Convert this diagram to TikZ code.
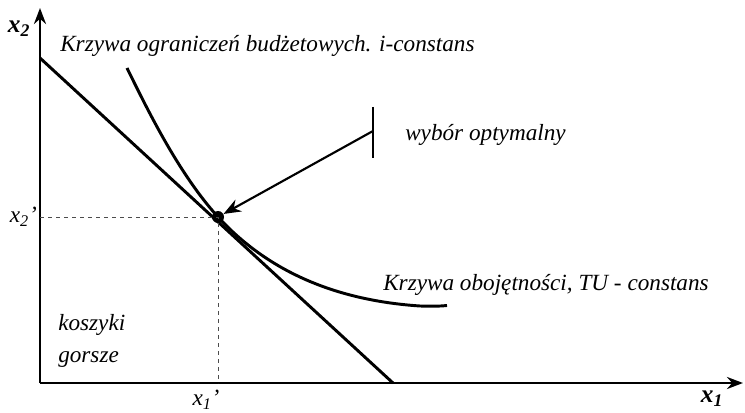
\documentclass[tikz,border=0pt]{standalone}
\usepackage{fontspec}
\setmainfont{Liberation Serif}
\usetikzlibrary{arrows.meta,positioning}

\tikzset{
  thick line/.style={line width=2.2pt},
  guide/.style={gray!60!black,dashed,line width=0.7pt},
  lbl/.style={font=\fontsize{17.4}{20}\selectfont\itshape,inner sep=0pt},
  axlbl/.style={font=\fontsize{19}{22}\selectfont\bfseries\itshape,inner sep=0pt},
}

\begin{document}
\begin{tikzpicture}[x=0.75pt,y=-0.75pt]
    \useasboundingbox (0,0) rectangle (745,413);
    % axes
    \coordinate (O) at (40,383);
    \coordinate (ytop) at (40,8);
    \coordinate (xend) at (743,383);
    \draw[thick line,-{Stealth[length=12pt,width=9pt]}] (O) -- (ytop);
    \draw[thick line,-{Stealth[length=12pt,width=9pt]}] (O) -- (xend);
    \node[axlbl] (lx2) at (19,29) {x\textsubscript{2}};
    \node[axlbl] (lx1) at (712,399) {x\textsubscript{1}};
    % budget line and indifference curve
    \coordinate (b0) at (40,58);
    \coordinate (b1) at (393,383);
    \draw[thick line] (b0) -- (b1);
    \node[circle,fill,inner sep=0pt,minimum size=9pt] (opt) at (218,217) {};
    \draw[thick line] (127,68) .. controls (150,115) and (180,175) .. (opt.center)
      .. controls (265,268) and (330,300) .. (420,306)
      .. controls (435,306.5) and (442,306) .. (447,305.5);
    % guides to the axes
    \draw[guide] (O |- opt) -- (opt.center) -- (opt.center |- O);
    \node[lbl,anchor=east] (lx2p) at (37,217) {x\textsubscript{2}’};
    \node[lbl] (lx1p) at (206,400) {x\textsubscript{1}’};
    % pointer to the optimum
    \coordinate (bartop) at (373,107);
    \coordinate (barbot) at (373,158);
    \coordinate (barmid) at (373,131);
    \draw[line width=1.6pt] (bartop) -- (barbot);
    \draw[line width=1.6pt,-{Stealth[length=13pt,width=10pt]}] (barmid) -- (opt);
    % texts
    \node[lbl,anchor=west] (tbud) at (60,46) {Krzywa ograniczeń budżetowych. i-constans};
    \node[lbl,anchor=west] (topt) at (405,135) {wybór optymalny};
    \node[lbl,anchor=west] (tind) at (383,285) {Krzywa obojętności, TU - constans};
    \node[lbl,anchor=west,align=left] (tbas) at (58,341) {koszyki\\[4pt]gorsze};
\end{tikzpicture}
\end{document}
